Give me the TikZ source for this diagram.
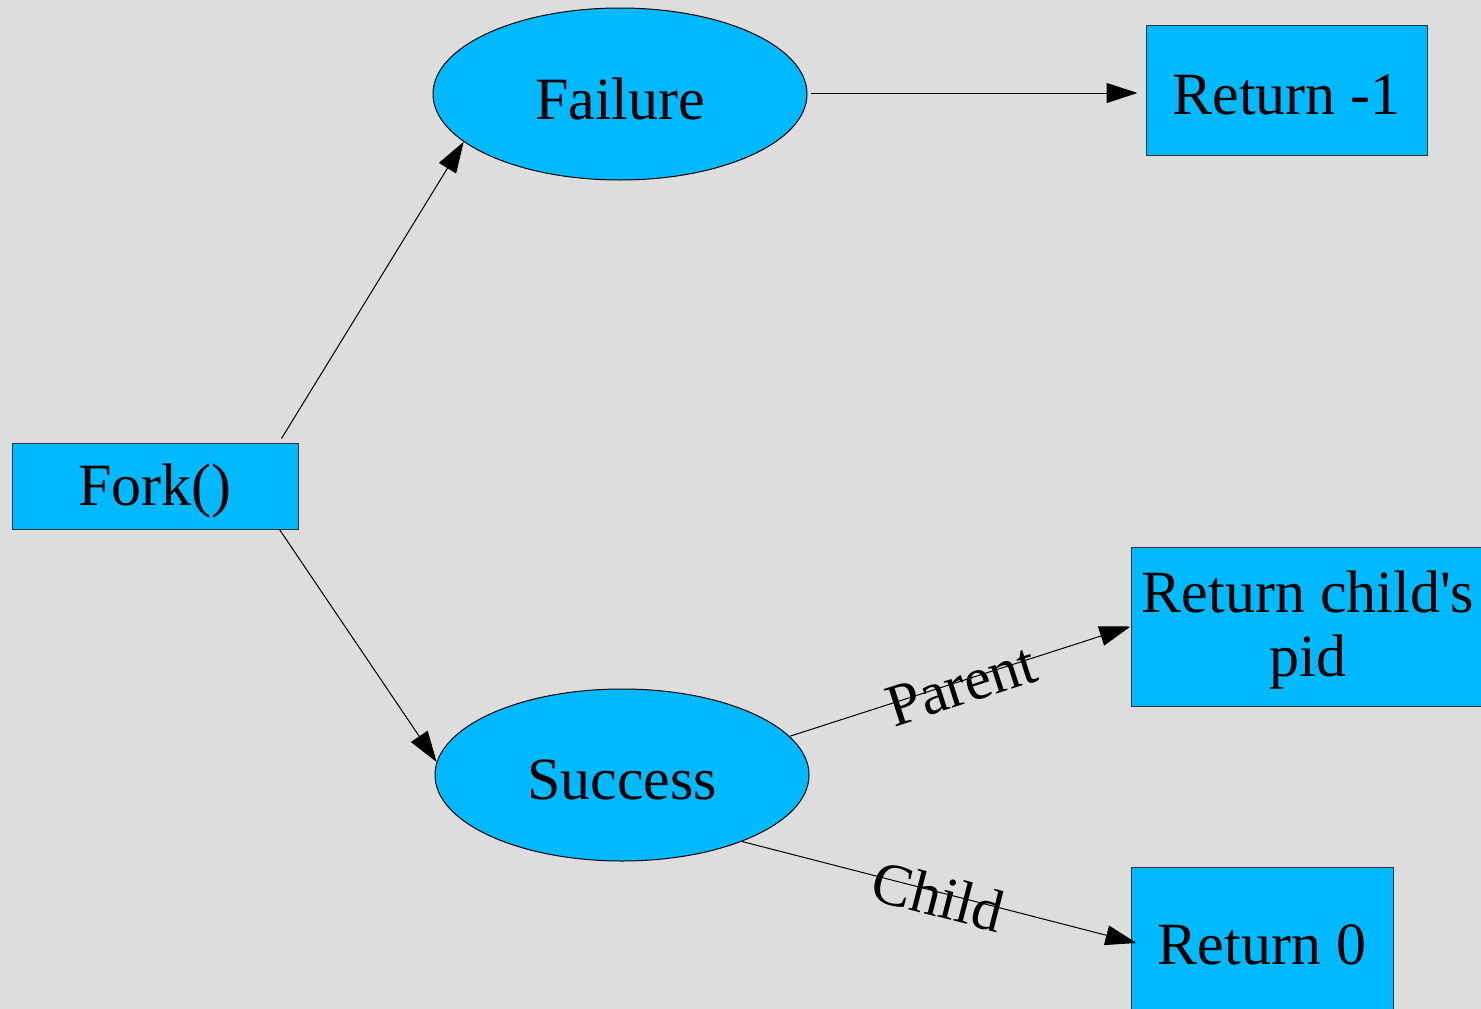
\documentclass[tikz,border=0pt]{standalone}
\usepackage{fontspec}
\setmainfont{Liberation Serif}[Ligatures=TeXOff]
\usetikzlibrary{shapes.geometric,arrows.meta}
\definecolor{bgc}{RGB}{221,221,221}
\definecolor{nodefill}{RGB}{0,185,255}
\newcommand{\lowertxt}[1]{\raisebox{-5pt}[\height][\depth]{#1}}
\begin{document}
\begin{tikzpicture}[x=1pt,y=-1pt,
  box/.style={draw=black!80, line width=1pt, fill=nodefill, rectangle, inner sep=0pt, font=\fontsize{60}{64}\selectfont, align=center},
  oval/.style={draw=black, line width=1pt, fill=nodefill, ellipse, inner sep=0pt, font=\fontsize{60}{64}\selectfont},
  edge/.style={draw=black, line width=1pt, -{Triangle[length=31pt,width=20pt]}},
  elabel/.style={sloped, font=\fontsize{60}{64}\selectfont, inner sep=0pt, yshift=-4pt}]
\fill[bgc] (0,0) rectangle (1481,1009);
\useasboundingbox (0,0) rectangle (1481,1009);
\node[box, minimum width=286pt, minimum height=86pt] (fork) at (155,486) {\lowertxt{Fork()}};
\node[oval, minimum width=374pt, minimum height=172pt] (failure) at (620,94) {\lowertxt{Failure}};
\node[oval, minimum width=374pt, minimum height=172pt] (success) at (622,775) {\lowertxt{Success}};
\node[box, minimum width=281pt, minimum height=130pt] (ret1) at (1286.5,90) {\lowertxt{Return -1}};
\node[box, minimum width=354pt, minimum height=159pt] (pid) at (1308,626.5) {\lowertxt{\begin{tabular}{@{}c@{}}Return child's\\pid\end{tabular}}};
\node[box, minimum width=262pt, minimum height=146pt] (ret0) at (1262,940) {\lowertxt{Return 0}};
\draw[edge] ([xshift=-17pt,yshift=4pt]fork.north east) -- (failure.197);
\draw[edge] ([xshift=-19pt]fork.south east) -- (success.176);
\draw[edge] ([xshift=3pt,yshift=1pt]failure.east) -- ([xshift=-8pt,yshift=-3pt]ret1.west);
\draw[edge] (success.13) -- node[elabel] {Parent} (pid.west);
\draw[edge] (success.-29) -- node[elabel] {Child} ([xshift=6pt,yshift=-3pt]ret0.west);
\end{tikzpicture}
\end{document}
